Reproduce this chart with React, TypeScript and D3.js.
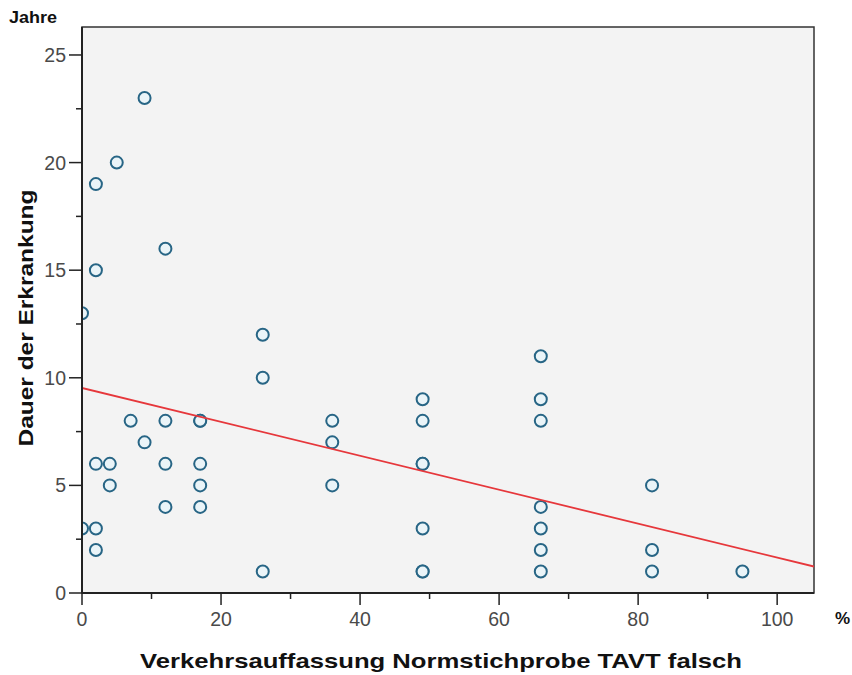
import React from 'react';
import * as d3 from 'd3';

// Verkehrsauffassung (%) vs. Dauer der Erkrankung (Jahre)
const xValues = [
  0, 0, 2, 2, 2, 2, 2, 4, 4, 5, 7, 9, 9, 12, 12, 12, 12, 17, 17, 17, 17, 17,
  26, 26, 26, 36, 36, 36, 49, 49, 49, 49, 49, 49, 49, 66, 66, 66, 66, 66, 66, 66,
  82, 82, 82, 95,
];
const yValues = [
  13, 3, 19, 15, 6, 3, 2, 6, 5, 20, 8, 23, 7, 16, 8, 6, 4, 8, 8, 6, 5, 4,
  12, 10, 1, 8, 7, 5, 9, 8, 6, 6, 3, 1, 1, 11, 9, 8, 4, 3, 2, 1,
  5, 2, 1, 1,
];
const xTicks = [0, 20, 40, 60, 80, 100];
const xMinorTicks = [10, 30, 50, 70, 90];
const yTicks = [0, 5, 10, 15, 20, 25];
const yMinorTicks = [2.5, 7.5, 12.5, 17.5, 22.5];

const W = 852;
const H = 675;
const margin = { top: 27, right: 38, bottom: 82, left: 82 };
const FONT = 'Arial, "Liberation Sans", sans-serif';

export default function App() {
  const innerW = W - margin.left - margin.right;
  const innerH = H - margin.top - margin.bottom;

  const x = d3.scaleLinear().domain([0, 105.3]).range([0, innerW]);
  const y = d3.scaleLinear().domain([0, 26.3]).range([innerH, 0]);

  const points = xValues.map((v, i) => ({ x: v, y: yValues[i] }));

  // least squares fit line
  const mx = d3.mean(xValues) as number;
  const my = d3.mean(yValues) as number;
  const sxy = d3.sum(points, (p) => (p.x - mx) * (p.y - my));
  const sxx = d3.sum(points, (p) => (p.x - mx) ** 2);
  const slope = sxy / sxx;
  const icpt = my - slope * mx;
  const [x0, x1] = x.domain();
  const fitLine = d3.line<number>()
    .x((d) => x(d))
    .y((d) => y(icpt + slope * d));

  const tickFont = { fontFamily: FONT, fontSize: 19.5, fill: '#4a4a4a' };

  return (
    <svg width={W} height={H} style={{ position: 'absolute', left: 0, top: 0, background: '#fff' }}>
      <defs>
        <clipPath id="plotClip">
          <rect x={0} y={0} width={innerW} height={innerH} />
        </clipPath>
      </defs>
      <text x={9} y={23} fontFamily={FONT} fontWeight="bold" fontSize={16} fill="#111" textLength={48} lengthAdjust="spacingAndGlyphs">
        Jahre
      </text>
      <g transform={`translate(${margin.left},${margin.top})`}>
        <rect x={0} y={0} width={innerW} height={innerH} fill="#f3f3f3" stroke="#333" strokeWidth={1.5} />

        <g clipPath="url(#plotClip)">
          {points.map((p, i) => (
            <circle key={i} cx={x(p.x)} cy={y(p.y)} r={6} fill="#eaf4f8" stroke="#276585" strokeWidth={2} />
          ))}
          <path d={fitLine([x0, x1]) as string} fill="none" stroke="#e6373b" strokeWidth={1.8} />
        </g>

        {/* axes */}
        <line x1={0} x2={0} y1={0} y2={innerH} stroke="#222" strokeWidth={2} />
        <line x1={0} x2={innerW} y1={innerH} y2={innerH} stroke="#222" strokeWidth={2} />

        {yTicks.map((t) => (
          <g key={t} transform={`translate(0,${y(t)})`}>
            <line x1={-13} x2={0} stroke="#222" strokeWidth={1.5} />
            <text x={-16} dy="0.36em" textAnchor="end" {...tickFont}>{t}</text>
          </g>
        ))}
        {yMinorTicks.map((t) => (
          <line key={t} x1={-6} x2={0} y1={y(t)} y2={y(t)} stroke="#222" strokeWidth={1.5} />
        ))}

        {xTicks.map((t) => (
          <g key={t} transform={`translate(${x(t)},${innerH})`}>
            <line y1={0} y2={12} stroke="#222" strokeWidth={1.5} />
            <text y={33} textAnchor="middle" {...tickFont}>{t}</text>
          </g>
        ))}
        {xMinorTicks.map((t) => (
          <line key={t} x1={x(t)} x2={x(t)} y1={innerH} y2={innerH + 6} stroke="#222" strokeWidth={1.5} />
        ))}
      </g>

      <text x={835} y={624} fontFamily={FONT} fontWeight="bold" fontSize={17} fill="#111">
        %
      </text>
      <text
        x={441}
        y={668}
        textAnchor="middle"
        fontFamily={FONT}
        fontWeight="bold"
        fontSize={21}
        fill="#111"
        textLength={602}
        lengthAdjust="spacingAndGlyphs"
      >
        Verkehrsauffassung Normstichprobe TAVT falsch
      </text>
      <text
        transform="translate(33,318) rotate(-90)"
        textAnchor="middle"
        fontFamily={FONT}
        fontWeight="bold"
        fontSize={21}
        fill="#111"
        textLength={257}
        lengthAdjust="spacingAndGlyphs"
      >
        Dauer der Erkrankung
      </text>
    </svg>
  );
}
